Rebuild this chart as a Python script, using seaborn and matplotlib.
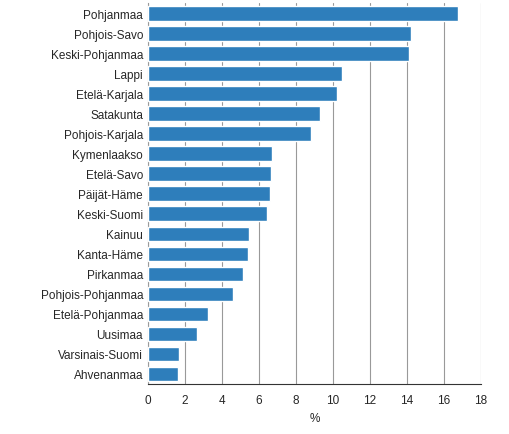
import matplotlib
matplotlib.use("Agg")
import matplotlib.pyplot as plt
import seaborn as sns
import pandas as pd

regions = ["Pohjanmaa","Pohjois-Savo","Keski-Pohjanmaa","Lappi","Etelä-Karjala","Satakunta",
           "Pohjois-Karjala","Kymenlaakso","Etelä-Savo","Päijät-Häme","Keski-Suomi","Kainuu",
           "Kanta-Häme","Pirkanmaa","Pohjois-Pohjanmaa","Etelä-Pohjanmaa","Uusimaa",
           "Varsinais-Suomi","Ahvenanmaa"]
values = [16.75,14.2,14.1,10.5,10.2,9.3,8.8,6.7,6.65,6.6,6.45,5.45,5.4,5.15,4.6,3.25,2.65,1.7,1.6]
xticks = [0,2,4,6,8,10,12,14,16,18]

sns.set_style("white")
plt.rcParams['font.family'] = ['Liberation Sans', 'DejaVu Sans']
df = pd.DataFrame({"region": regions, "value": values})

fig = plt.figure(figsize=(5.1, 4.35), dpi=100)
ax = fig.add_axes([0.29, 0.115, 0.653, 0.875])
sns.barplot(data=df, x="value", y="region", color="#2e7ebb", width=0.72, ax=ax, saturation=1, zorder=3)
ax.set_xlim(0, 18)
ax.set_xticks(xticks)
ax.grid(axis="x", color="#999999", linewidth=0.8, zorder=0)
ax.set_axisbelow(True)
for s in ["top", "right"]:
    ax.spines[s].set_visible(False)
ax.spines["left"].set_color("#999999")
ax.spines["bottom"].set_color("#333333")
ax.set_ylabel("")
ax.set_xlabel("%", fontsize=8.5)
ax.tick_params(axis="both", labelsize=8.5, length=0)
ax.tick_params(axis="x", length=4, color="#333333")
fig.savefig("out.png", dpi=100)
